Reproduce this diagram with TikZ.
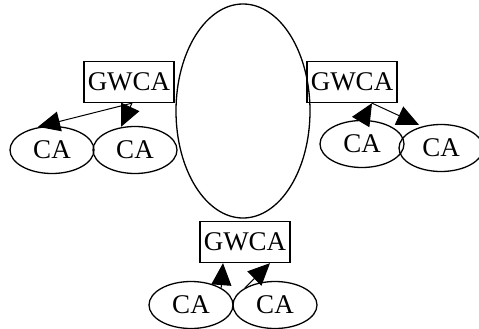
\documentclass[tikz,border=0pt]{standalone}
\usepackage{fontspec}
\setmainfont{Liberation Serif}
\usetikzlibrary{arrows.meta,shapes.geometric,calc}
\begin{document}
\begin{tikzpicture}[x=1pt,y=-1pt,
  gw/.style={draw,line width=1.3pt,minimum width=90pt,minimum height=41pt,inner sep=0pt,font=\fontsize{27}{27}\selectfont},
  ca/.style={draw,ellipse,line width=1.3pt,minimum width=84pt,minimum height=47pt,inner sep=0pt,font=\fontsize{27}{27}\selectfont},
  ar/.style={line width=1pt,-{Triangle[length=22pt,width=20pt]}}]
\useasboundingbox (0,0) rectangle (479,329);
\node[draw,ellipse,line width=1.3pt,minimum width=134pt,minimum height=214pt,inner sep=0pt] (big) at (243,111) {};
\node[gw] (g1) at (129,82) {GWCA};
\node[gw] (g2) at (352,82) {GWCA};
\node[gw] (g3) at (245,242) {GWCA};
\node[ca] (c1) at (52,150) {CA};
\node[ca] (c2) at (135,150) {CA};
\node[ca] (c3) at (362,144) {CA};
\node[ca] (c4) at (441,148) {CA};
\node[ca] (c5) at (191,305) {CA};
\node[ca] (c6) at (275,305) {CA};
\coordinate (s1) at ($(g1.south)+(3,0)$);
\coordinate (s2) at ($(g2.south)+(20,0)$);
\coordinate (t1) at ($(c1.north)+(-14,1)$);
\coordinate (t2) at ($(c2.north)+(-14,1)$);
\coordinate (t4) at ($(c4.north)+(-22,1)$);
\coordinate (b5) at ($(g3.south)+(-22,0)$);
\coordinate (b6) at ($(g3.south)+(25,0)$);
\draw[ar] (s1) -- (t1);
\draw[ar] (s1) -- (t2);
\draw[ar] (c3.north) -- (s2);
\draw[ar] (s2) -- (t4);
\draw[ar] (c5.north east) -- (b5);
\draw[ar] (c6.north west) -- (b6);
\end{tikzpicture}
\end{document}
